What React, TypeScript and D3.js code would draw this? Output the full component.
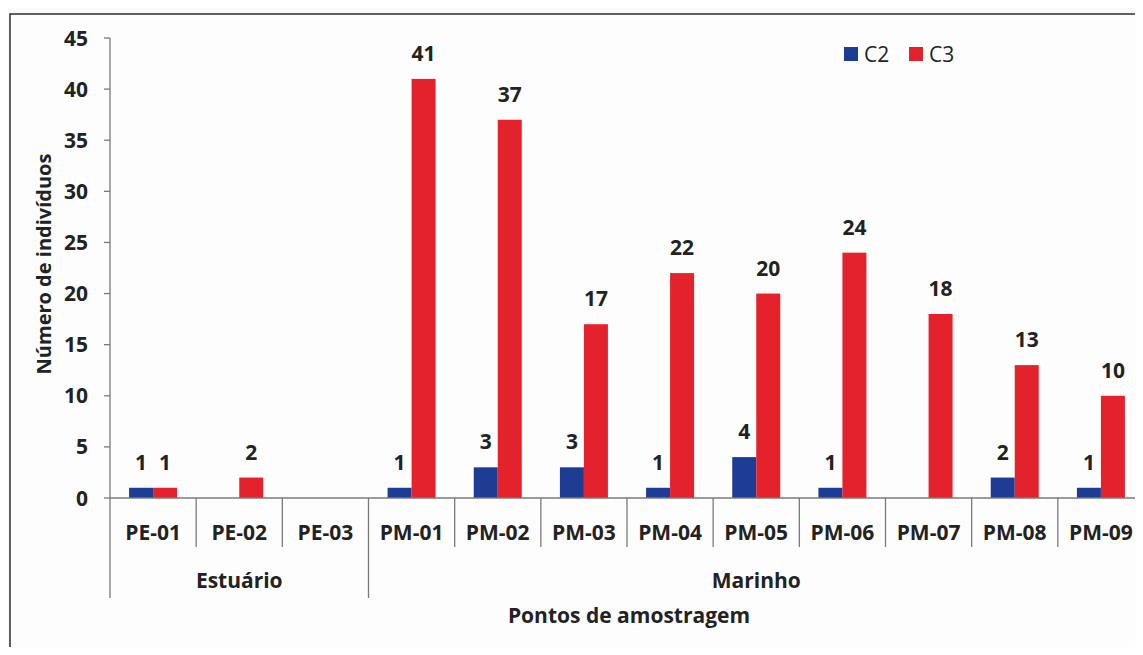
import React from "react";
import * as d3 from "d3";

const categories = ["PE-01", "PE-02", "PE-03", "PM-01", "PM-02", "PM-03", "PM-04", "PM-05", "PM-06", "PM-07", "PM-08", "PM-09"];
const c2Values = [1, 0, 0, 1, 3, 3, 1, 4, 1, 0, 2, 1];
const c3Values = [1, 2, 0, 41, 37, 17, 22, 20, 24, 18, 13, 10];
const seriesNames = ["C2", "C3"];
const groups = [
  { name: "Estuário", from: 0, to: 2 },
  { name: "Marinho", from: 3, to: 11 },
];
const yTicks = [0, 5, 10, 15, 20, 25, 30, 35, 40, 45];

const W = 1143;
const H = 655;
const BLUE = "#1d3d94";
const RED = "#e3222b";
const FONT = "'Open Sans', Lato, sans-serif";
const FS = 21;

export default function App() {
  const x0 = 110;
  const x1 = 1144;
  const yBase = 498;
  const yTop = 38;
  const x = d3.scaleBand<string>().domain(categories).range([x0, x1]).padding(0);
  const y = d3.scaleLinear().domain([0, 45]).range([yBase, yTop]);
  const barW = 24;
  const series = [
    { name: seriesNames[0], values: c2Values, color: BLUE, offset: -barW },
    { name: seriesNames[1], values: c3Values, color: RED, offset: 0 },
  ];
  const bw = x.bandwidth();

  return (
    <div style={{ margin: -8 }}>
      <svg width={W} height={H} style={{ display: "block", background: "#f9f9fa" }} fontFamily={FONT}>
        <rect x={10} y={14} width={W + 20} height={637} fill="#fdfdfd" stroke="#3a3a3a" strokeWidth={1.6} />
        {/* y axis */}
        <line x1={x0} x2={x0} y1={y(45)} y2={yBase} stroke="#7a7a7a" strokeWidth={1.3} />
        {yTicks.map((t) => (
          <g key={t}>
            <line x1={x0 - 6} x2={x0} y1={y(t)} y2={y(t)} stroke="#7a7a7a" strokeWidth={1.3} />
            <text x={88} y={y(t)} dy="0.36em" textAnchor="end" fontSize={FS} fontWeight="bold" fill="#222">
              {t}
            </text>
          </g>
        ))}
        <text
          transform={`translate(51, 264) rotate(-90)`}
          textAnchor="middle"
          fontSize={20}
          fontWeight="bold"
          fill="#222"
        >
          Número de indivíduos
        </text>
        {/* bars */}
        {series.map((s) =>
          s.values.map((v, i) => {
            const cx = (x(categories[i]) as number) + bw / 2;
            if (v === 0) return null;
            return (
              <g key={s.name + i}>
                <rect x={cx + s.offset} y={y(v)} width={barW} height={yBase - y(v)} fill={s.color} />
                <text
                  x={cx + s.offset + barW / 2}
                  y={y(v) - 18}
                  textAnchor="middle"
                  fontSize={FS}
                  fontWeight="bold"
                  fill="#222"
                >
                  {v}
                </text>
              </g>
            );
          })
        )}
        {/* x axis */}
        <line x1={x0} x2={x1} y1={yBase} y2={yBase} stroke="#7a7a7a" strokeWidth={1.3} />
        {categories.map((c, i) => {
          const left = x(c) as number;
          const isGroupEdge = groups.some((g) => g.from === i);
          return (
            <g key={c}>
              <line
                x1={left}
                x2={left}
                y1={yBase}
                y2={isGroupEdge ? 598 : 547}
                stroke="#7a7a7a"
                strokeWidth={1.3}
              />
              <text x={left + bw / 2} y={532} dy="0.36em" textAnchor="middle" fontSize={FS} fontWeight="bold" fill="#222">
                {c}
              </text>
            </g>
          );
        })}
        <line x1={x1} x2={x1} y1={yBase} y2={598} stroke="#7a7a7a" strokeWidth={1.3} />
        {groups.map((g) => {
          const a = x(categories[g.from]) as number;
          const b = (x(categories[g.to]) as number) + bw;
          return (
            <text key={g.name} x={(a + b) / 2} y={580} dy="0.36em" textAnchor="middle" fontSize={FS} fontWeight="bold" fill="#222">
              {g.name}
            </text>
          );
        })}
        <text x={629} y={615} dy="0.36em" textAnchor="middle" fontSize={FS} fontWeight="bold" fill="#222">
          Pontos de amostragem
        </text>
        {/* legend */}
        {series.map((s, i) => (
          <g key={s.name} transform={`translate(844, 47)`}>
            <rect x={i * 65} y={0} width={14} height={14} fill={s.color} />
            <text x={i * 65 + 20} y={7} dy="0.36em" fontSize={FS} fill="#222">
              {s.name}
            </text>
          </g>
        ))}
      </svg>
    </div>
  );
}
